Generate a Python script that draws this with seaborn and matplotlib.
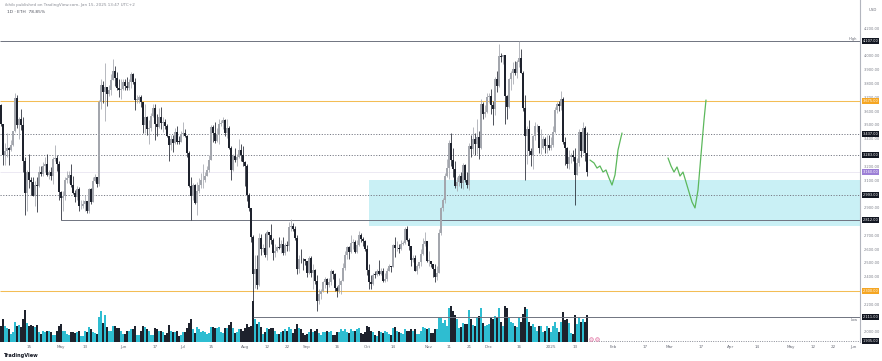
import numpy as np
import pandas as pd
import matplotlib
matplotlib.use("Agg")
import matplotlib.pyplot as plt
import seaborn as sns
from matplotlib.transforms import blended_transform_factory

# ---------------- data (ETH daily) ----------------
start_date = "2024-04-01"
first_open = 3647

close_apr = [3505,3279,3312,3330,3317,3352,3454,3697,3502,3545,3502,3240,3007,3157,3100,3085,2985,3064,3055,3157,3148,3200,3219,3140,3156,3131,3255,3262,3216,3014]
high_apr = [3650,3510,3370,3445,3340,3390,3460,3730,3720,3560,3615,3555,3270,3175,3290,3125,3125,3095,3125,3200,3200,3235,3265,3290,3175,3195,3270,3355,3285,3240]
low_apr = [3490,3210,3210,3270,3210,3310,3350,3450,3480,3400,3465,3160,2850,2880,3040,2995,2990,2915,2870,3050,3130,3130,3160,3130,3110,3100,3075,3240,3170,2960]

close_may = [2970,2989,3103,3117,3137,3063,3006,2975,3036,2910,2913,2930,2950,2880,3036,2944,3093,3122,3072,3665,3790,3739,3777,3727,3750,3826,3894,3842,3770,3750,3760]
high_may = [3020,3020,3125,3170,3170,3215,3130,3030,3055,3050,2955,2960,2995,2950,3045,3045,3120,3145,3125,3680,3830,3820,3950,3765,3790,3870,3975,3925,3885,3830,3830]
low_may = [2815,2880,2960,3080,3080,3050,3000,2940,2955,2880,2890,2900,2880,2865,2865,2930,2940,3090,3050,3060,3615,3660,3530,3640,3710,3720,3825,3780,3755,3700,3690]

close_jun = [3815,3780,3767,3811,3867,3812,3680,3683,3706,3667,3497,3560,3470,3480,3567,3620,3510,3484,3560,3516,3520,3490,3418,3353,3395,3370,3450,3380,3378,3435]
high_jun = [3835,3830,3845,3830,3885,3880,3840,3715,3715,3720,3670,3655,3565,3535,3590,3650,3650,3580,3620,3630,3560,3540,3510,3420,3430,3425,3480,3490,3418,3460]
low_jun = [3750,3750,3750,3750,3770,3795,3610,3660,3660,3630,3440,3440,3425,3360,3460,3555,3390,3420,3480,3470,3450,3470,3410,3240,3320,3305,3365,3360,3365,3375]

close_jul = [3440,3420,3295,3060,2985,3068,2932,3020,3066,3100,3100,3130,3175,3245,3486,3445,3387,3427,3507,3518,3536,3440,3480,3336,3172,3275,3248,3270,3318,3280,3232]
high_jul = [3520,3470,3430,3310,3120,3080,3070,3085,3115,3150,3220,3160,3200,3280,3500,3500,3520,3480,3545,3535,3560,3545,3545,3490,3350,3290,3330,3290,3395,3365,3350]
low_jul = [3420,3410,3270,3050,2810,2960,2930,2850,3010,3040,3040,3090,3140,3160,3245,3380,3370,3380,3360,3490,3470,3420,3405,3325,3100,3170,3230,3205,3260,3240,3200]

close_aug = [3204,2990,2900,2688,2420,2460,2337,2682,2600,2610,2555,2722,2702,2664,2570,2590,2617,2612,2636,2575,2632,2622,2762,2768,2745,2680,2458,2528,2527,2526,2514]
high_aug = [3240,3220,3010,2900,2700,2560,2560,2720,2710,2640,2720,2740,2720,2785,2680,2640,2625,2690,2665,2690,2645,2660,2800,2820,2790,2765,2700,2555,2600,2535,2525]
low_aug = [3060,2950,2880,2650,2110,2320,2310,2330,2560,2580,2540,2525,2615,2640,2520,2540,2580,2600,2570,2560,2560,2590,2590,2730,2730,2670,2420,2430,2500,2450,2485]

close_sep = [2425,2538,2424,2450,2367,2222,2273,2297,2360,2387,2340,2361,2439,2418,2317,2295,2340,2372,2466,2560,2613,2580,2645,2653,2578,2633,2700,2676,2657,2603]
high_sep = [2515,2550,2550,2490,2460,2410,2310,2310,2370,2400,2390,2390,2460,2450,2425,2330,2390,2380,2500,2590,2625,2620,2700,2672,2670,2665,2730,2720,2690,2670]
low_sep = [2400,2420,2400,2310,2350,2150,2200,2240,2290,2320,2280,2325,2340,2385,2300,2250,2285,2275,2380,2450,2530,2530,2570,2600,2570,2575,2620,2655,2620,2590]

close_oct = [2447,2363,2349,2415,2414,2440,2422,2440,2370,2385,2440,2475,2470,2630,2607,2610,2605,2640,2647,2747,2667,2620,2523,2535,2440,2480,2505,2567,2638,2660,2515]
high_oct = [2630,2490,2410,2430,2440,2460,2520,2465,2465,2425,2465,2490,2480,2640,2690,2660,2640,2670,2660,2760,2770,2680,2620,2560,2560,2490,2510,2600,2680,2725,2660]
low_oct = [2410,2310,2310,2340,2390,2405,2415,2410,2365,2360,2370,2440,2435,2470,2540,2590,2570,2595,2630,2640,2660,2595,2475,2510,2440,2420,2465,2475,2560,2625,2505]

close_nov = [2515,2490,2460,2400,2430,2720,2895,2960,3130,3185,3370,3245,3180,3060,3090,3130,3080,3210,3100,3065,3350,3325,3395,3360,3410,3335,3655,3580,3595,3705]
high_nov = [2585,2515,2495,2490,2480,2745,2905,2970,3150,3250,3390,3440,3330,3240,3120,3145,3160,3225,3220,3160,3370,3430,3485,3440,3540,3455,3685,3670,3645,3735]
low_nov = [2475,2470,2400,2360,2380,2425,2700,2875,2935,3120,3110,3200,3120,3040,3020,3060,3040,3035,3085,3040,3030,3265,3290,3285,3290,3250,3325,3545,3560,3585]

close_dec = [3710,3645,3615,3835,3785,4000,3995,4005,3710,3630,3830,3880,3905,3875,3960,3985,3880,3620,3420,3470,3315,3280,3420,3490,3490,3330,3330,3395,3350,3355,3335]
high_dec = [3735,3760,3675,3845,3890,4090,4020,4010,4000,3720,3840,3890,3960,3965,3970,4107,4050,3890,3720,3495,3535,3330,3430,3520,3510,3495,3470,3420,3410,3430,3425]
low_dec = [3660,3580,3500,3570,3740,3775,3960,3945,3510,3540,3620,3755,3800,3860,3840,3920,3875,3600,3100,3215,3280,3200,3180,3390,3450,3300,3290,3325,3300,3300,3320]

close_jan = [3355,3450,3610,3655,3635,3690,3380,3330,3220,3265,3280,3265,3135,3225,3450,3310,3475,3300,3160]
high_jan = [3410,3490,3630,3670,3675,3745,3700,3410,3340,3320,3300,3320,3330,3260,3470,3450,3525,3490,3450]
low_jan = [3320,3340,3440,3590,3600,3610,3360,3210,3190,3180,3225,3240,2920,3135,3200,3270,3300,3240,3130]

volume = [14,20,14,12,11,7,9,18,14,15,13,20,28,17,14,15,14,13,15,9,7,10,9,10,10,9,6,6,10,14,
          16,10,10,7,6,9,9,8,9,10,5,5,10,9,13,11,9,8,7,22,27,17,24,13,10,10,14,14,12,12,10,
          7,7,10,10,11,11,14,6,6,10,14,13,11,10,6,6,12,11,10,10,9,6,8,15,10,9,9,10,5,6,
          9,9,12,17,20,11,8,13,11,9,10,9,7,8,13,13,12,12,13,9,8,12,12,15,18,12,8,9,11,11,10,
          12,16,13,14,36,20,16,18,13,7,9,12,11,12,12,10,7,7,9,10,11,10,13,11,8,11,16,12,11,8,6,
          7,9,11,9,10,11,8,6,9,9,10,9,10,6,6,9,9,11,10,11,9,8,11,10,10,11,12,8,7,9,
          14,13,10,9,6,5,10,9,8,10,9,7,6,12,13,10,9,8,7,11,10,10,11,10,11,7,7,10,13,12,11,
          12,8,8,11,11,22,21,17,19,14,30,32,27,24,20,12,13,17,16,16,28,20,15,14,22,23,30,17,14,15,
          16,22,20,23,22,30,18,14,32,30,21,18,17,14,13,22,18,25,31,29,18,14,16,13,10,14,14,9,10,14,12,
          9,14,18,12,9,18,26,19,20,17,8,7,24,16,21,18,20,18,24]

# projection sketches (days after start, price)
proj1_days = [294.5, 296.5, 298, 299.5, 301, 302.5, 304, 305.5, 307, 308.5, 310.5]
proj1_price = [3246, 3225, 3188, 3203, 3159, 3174, 3116, 3065, 3138, 3319, 3442]
proj2_days = [333.5, 335, 336.5, 338, 339.5, 341, 342.5, 344, 345.5, 347, 348.5, 350, 351.5, 352.5]
proj2_price = [3261, 3203, 3159, 3196, 3130, 3159, 3087, 3014, 2942, 2899, 3029, 3283, 3536, 3681]

# horizontal levels: price, start date (None = full), style
level_price = [4107, 3675, 3437, 3283, 2993, 2812, 2300, 2111]
level_start = [None, None, None, None, None, "2024-05-01", None, "2024-08-05"]
level_kind = ["solid", "orange", "dotted", "dotted", "dotted", "solid", "orange", "solid"]
zone_low, zone_high, zone_start = 2768, 3100, "2024-10-02"
current_price = 3160
bottom_level, bottom_start = 1935, "2025-01-20"

price_ticks = [2000,2100,2200,2300,2400,2500,2600,2700,2800,2900,3000,3100,3200,3300,3400,3500,3600,3700,3800,3900,4000,4100,4200]
box_prices = [4107, 3675, 3437, 3283, 3160, 2993, 2812, 2300, 2111, 1935]
box_colors = ["#131722", "#f5a623", "#131722", "#131722", "#9c7fd6", "#131722", "#131722", "#f5a623", "#131722", "#131722"]

tick_dates = ["2024-04-15","2024-05-01","2024-05-13","2024-06-01","2024-06-17","2024-07-01","2024-07-15",
              "2024-08-01","2024-08-12","2024-08-22","2024-09-01","2024-09-16","2024-10-01","2024-10-14",
              "2024-11-01","2024-11-11","2024-11-21","2024-12-01","2024-12-16","2025-01-01","2025-01-13",
              "2025-02-01","2025-02-17","2025-03-01","2025-03-17","2025-04-01","2025-04-14","2025-05-01",
              "2025-05-12","2025-05-22","2025-06-01"]
tick_labels = ["15","May","13","Jun","17","Jul","15","Aug","12","22","Sep","16","Oct","14","Nov","11","21",
               "Dec","16","2025","13","Feb","17","Mar","17","Apr","14","May","12","22","Jun"]

# ---------------- assemble ----------------
closes = np.array(close_apr+close_may+close_jun+close_jul+close_aug+close_sep+close_oct+close_nov+close_dec+close_jan, float)
highs = np.array(high_apr+high_may+high_jun+high_jul+high_aug+high_sep+high_oct+high_nov+high_dec+high_jan, float)
lows = np.array(low_apr+low_may+low_jun+low_jul+low_aug+low_sep+low_oct+low_nov+low_dec+low_jan, float)
vols = np.array(volume, float)
assert len(closes) == len(highs) == len(lows) == len(vols), (len(closes), len(highs), len(lows), len(vols))
opens = np.concatenate([[first_open], closes[:-1]])
highs = np.maximum(highs, np.maximum(opens, closes))
lows = np.minimum(lows, np.minimum(opens, closes))

t0 = pd.Timestamp(start_date)
dates = pd.date_range(t0, periods=len(closes), freq="D")
df = pd.DataFrame({"date": dates, "open": opens, "high": highs, "low": lows, "close": closes, "volume": vols})
df["d"] = (df["date"] - t0).dt.days
df["up"] = df["close"] >= df["open"]

def dnum(s):
    return (pd.Timestamp(s) - t0).days

# ---------------- plot ----------------
sns.set_theme(style="white")
plt.rcParams["font.family"] = ["DejaVu Sans"]

W, H = 882, 361
fig = plt.figure(figsize=(W / 100, H / 100), dpi=100)
fig.patch.set_facecolor("white")
ax = fig.add_axes([0, 19 / H, 860 / W, 342 / H])
axv = ax.twinx()
ax.set_zorder(2)
axv.set_zorder(1)
ax.patch.set_visible(False)

XMIN, XMAX = -0.5, 429.5
ax.set_xlim(XMIN, XMAX)
ax.set_ylim(1927.5, 4405.8)

# volume
vcol = np.where(df["up"], "#2ebdd1", "#1e222d")
axv.bar(df["d"], df["volume"], width=0.75, color=vcol, linewidth=0)
axv.set_ylim(0, vols.max() * 342 / 41)
axv.set_yticks([])
for s in axv.spines.values():
    s.set_visible(False)

# zone
ax.fill_between([dnum(zone_start), XMAX], zone_low, zone_high, color="#c9f0f5", lw=0, zorder=0)

# level lines
for p, st, kind in zip(level_price, level_start, level_kind):
    x0 = XMIN if st is None else dnum(st)
    if kind == "orange":
        ax.hlines(p, x0, XMAX, color="#f3bd55", lw=0.75, zorder=1)
    elif kind == "dotted":
        ax.hlines(p, x0, XMAX, color="#787b86", lw=0.7, linestyles=(0, (1.2, 1.6)), zorder=1)
    else:
        ax.hlines(p, x0, XMAX, color="#6f7380", lw=0.7, zorder=1)
ax.hlines(current_price, XMIN, XMAX, color="#e4e0ef", lw=0.5, zorder=0.5)
ax.hlines(bottom_level, dnum(bottom_start), XMAX, color="#787b86", lw=0.6, linestyles=(0, (1.2, 1.6)), zorder=1)

# candles
up = df[df["up"]]
dn = df[~df["up"]]
for sub, col in ((up, "#a3a6ad"), (dn, "#1e222d")):
    ax.vlines(sub["d"], sub["low"], sub["high"], color=col, lw=0.55, zorder=3)
    body_lo = np.minimum(sub["open"], sub["close"])
    body_h = np.maximum(np.abs(sub["close"] - sub["open"]), 5)
    ax.bar(sub["d"], body_h, bottom=body_lo, width=0.62, color=col, linewidth=0, zorder=3)

# projections
sns.lineplot(x=proj1_days, y=proj1_price, ax=ax, color="#5cb85c", lw=0.9, sort=False, estimator=None, zorder=4)
sns.lineplot(x=proj2_days, y=proj2_price, ax=ax, color="#5cb85c", lw=0.9, sort=False, estimator=None, zorder=4)

# event markers near bottom
ax.scatter([dnum("2025-01-21"), dnum("2025-01-24")], [1950, 1950], s=7, facecolor="#f6d5e3",
           edgecolor="#e06c9f", linewidth=0.4, zorder=5, clip_on=False)

# axes styling
for name, s in ax.spines.items():
    s.set_visible(name == "right")
ax.spines["right"].set_color("#b2b5be")
ax.spines["right"].set_linewidth(0.8)
ax.yaxis.tick_right()
shown = [p for p in price_ticks if all(abs(p - b) > 22 for b in box_prices)]
ax.set_yticks(shown)
ax.set_yticklabels([f"{p:,.2f}" for p in shown])
ax.tick_params(axis="y", length=0, pad=3, labelsize=2.6, colors="#7a7d88")
ax.set_xticks([dnum(t) for t in tick_dates])
ax.set_xticklabels(tick_labels)
ax.tick_params(axis="x", length=0, pad=2.5, labelsize=3, colors="#6a6d78")
ax.grid(False)

trans = blended_transform_factory(ax.transAxes, ax.transData)
for p, c in zip(box_prices, box_colors):
    ax.text(1.003, p, f"{p:,.2f}", transform=trans, fontsize=2.5, color="white", ha="left", va="center",
            clip_on=False, zorder=10,
            bbox=dict(boxstyle="square,pad=0.3", fc=c, ec="none"))
ax.text(0.997, 4107 + 14, "High", transform=trans, fontsize=2.6, color="#6a6d78", ha="right", va="center")
ax.text(0.997, 2111 - 25, "Low", transform=trans, fontsize=2.6, color="#6a6d78", ha="right", va="center")
ax.text(1.01, 4330, "USD", transform=trans, fontsize=2.8, color="#6a6d78", ha="left", va="center", clip_on=False)

# header / footer
fig.text(5 / W, 1 - 5 / H, "ikhib published on TradingView.com, Jan 15, 2025 13:47 UTC+2", fontsize=3,
         color="#8a8d96", ha="left", va="center")
fig.text(7 / W, 1 - 12 / H, "1D · ETH  78.85%", fontsize=3.2, color="#50535e", ha="left", va="center")
fig.text(4 / W, 1 - 355 / H, "TradingView", fontsize=3.6, color="#131722", ha="left", va="center",
         fontweight="bold")

fig.savefig("out.png", dpi=100)
